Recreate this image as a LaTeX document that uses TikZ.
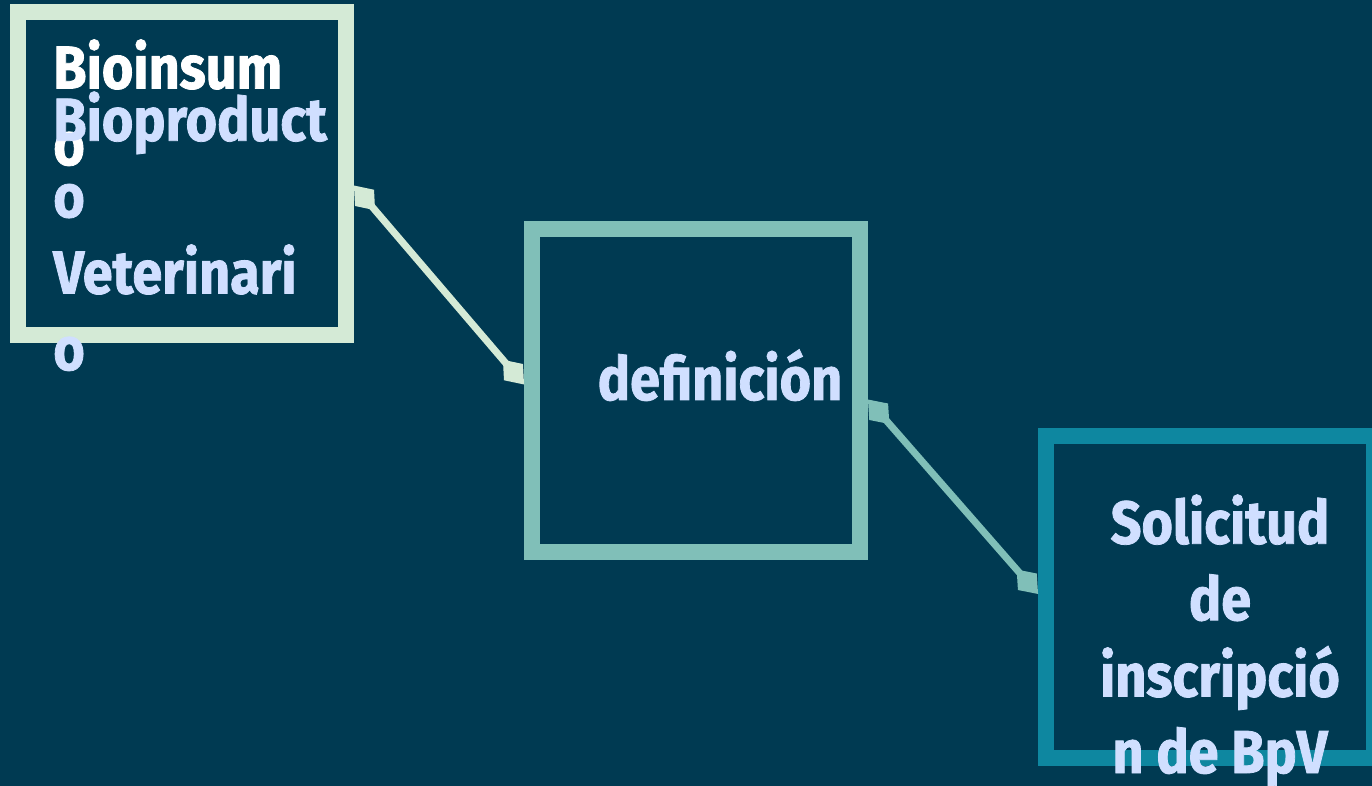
\documentclass[tikz,border=0pt]{standalone}
\usepackage{fontspec}
\newfontfamily\boxfont{Fira Sans}[FakeStretch=0.89, FakeBold=1.3]
\usetikzlibrary{arrows.meta}
\usetikzlibrary{positioning}
\definecolor{bgblue}{HTML}{003A52}
\definecolor{mintline}{HTML}{D4EAD6}
\definecolor{sageline}{HTML}{80BFB8}
\definecolor{tealline}{HTML}{0E87A0}
\definecolor{textblue}{HTML}{D0DFFF}

\begin{document}
\begin{tikzpicture}[
    x=0.02cm, y=-0.02cm,
    every node/.style={
        font=\boxfont\bfseries\fontsize{34.5}{43.5}\selectfont
    },
    stage/.style={
        minimum width=6.56cm, minimum height=6.46cm,
        rectangle,
        line width=0.32cm,
        inner sep=0,
        draw
    },
    stagetext/.style={
        inner sep=0,
        text=textblue
    },
    link/.style={
        line width=0.14cm,
        {Diamond[length=0.65cm,width=0.5cm]}-{Diamond[length=0.65cm,width=0.5cm]}
    }
]
\fill[bgblue] (0,0) rectangle (1372,786);
\useasboundingbox (0,0) rectangle (1372,786);

\node (s1) [stage, draw=mintline] at (182,173.5) {};
\node (s2) [stage, draw=sageline] at (696,390.5) {};
\node (s3) [stage, draw=tealline] at (1210,597)   {};

\node (t1a) [stagetext, text=white, align=left, anchor=base west] at (53,165)
    {Bioinsum\\o};
\node (t1b) [stagetext, align=left, anchor=base west] at (53,370)
    {Bioproduct\\o\\Veterinari\\o};
\node (t2)  [stagetext, anchor=base] at (720,400) {definición};
\node (t3)  [stagetext, align=center, anchor=base] at (1220,773)
    {Solicitud\\de\\inscripció\\n de BpV};

\draw[link, mintline] (s1.-4) -- (s2.178);
\draw[link, sageline] (s2.-3) -- (s3.179);
\end{tikzpicture}
\end{document}
